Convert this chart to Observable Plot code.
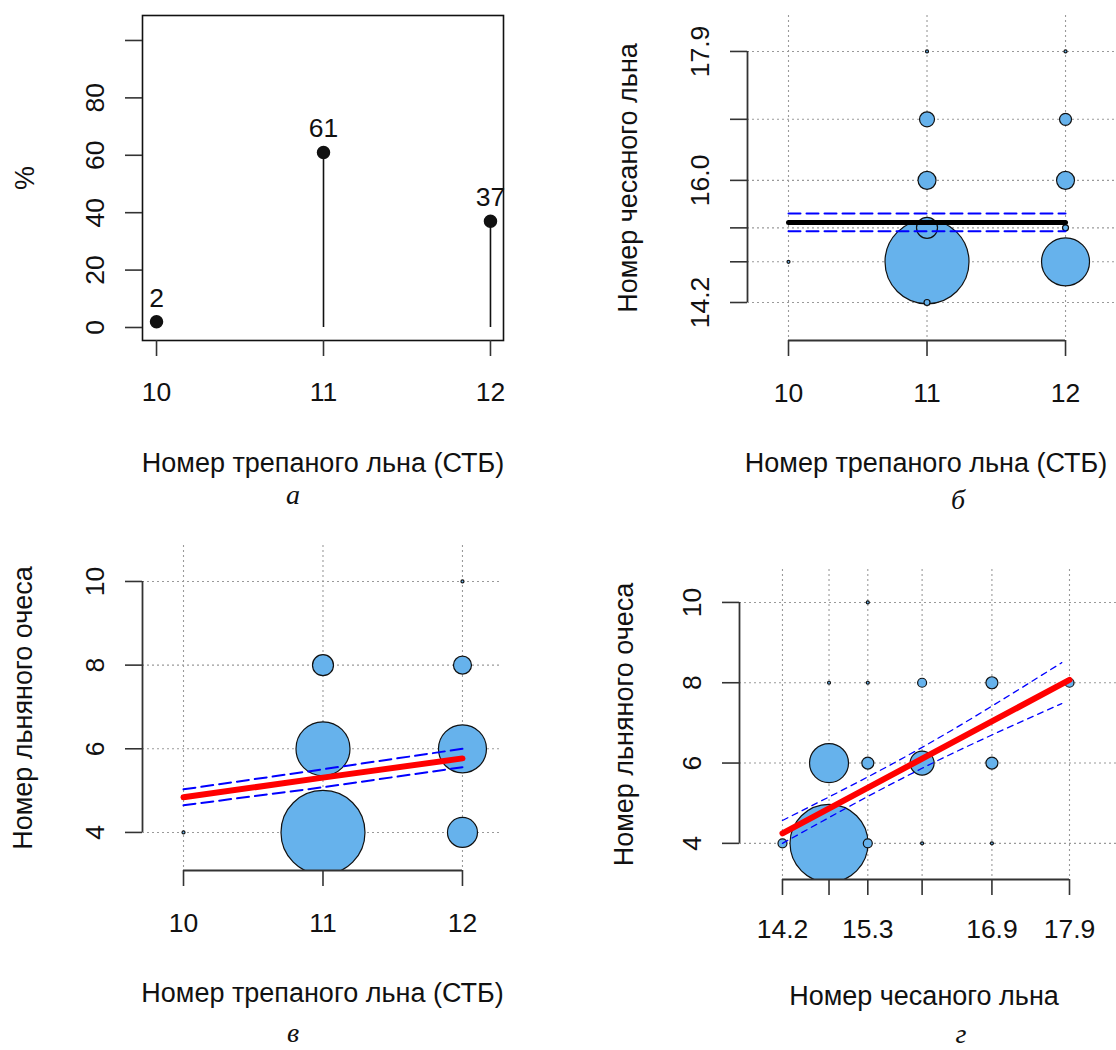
<!DOCTYPE html>
<html><head><meta charset="utf-8">
<script src="https://cdn.jsdelivr.net/npm/d3@7"></script>
<script src="https://cdn.jsdelivr.net/npm/@observablehq/plot@0.6"></script>
<style>
body{margin:0;background:#fff;}
#root{position:relative;width:1116px;height:1050px;overflow:hidden;background:#fff;font-family:"Liberation Sans",Arial,sans-serif;}
.panel{position:absolute;}
.cap{position:absolute;font-family:"Liberation Serif",serif;font-style:italic;font-size:28px;line-height:1;transform:translateX(-50%);color:#111;}
</style></head><body><div id="root"></div>
<script>
// ---------- data ----------
// panel а: share of scutched-flax grades
const scutchedGrades = [10, 11, 12];
const sharePct = [2, 61, 37];
const pctTicks = [0, 20, 40, 60, 80, 100];
const pctLabels = [0, 20, 40, 60, 80];

// common tick lists
const scutchedTicks = [10, 11, 12];
const combedTicks = [14.2, 14.8, 15.3, 16.0, 16.9, 17.9];
const combedLabelsB = [14.2, 16.0, 17.9];
const combedLabelsG = [14.2, 15.3, 16.9, 17.9];
const towTicks = [4, 6, 8, 10];

// panel б: scutched (x) vs combed (y), bubble = frequency
const bScutched = [10, 11, 11, 11, 11, 11, 11, 12, 12, 12, 12, 12];
const bCombed   = [14.8, 14.2, 14.8, 15.3, 16.0, 16.9, 17.9, 14.8, 15.3, 16.0, 16.9, 17.9];
const bCount    = [1, 2, 28, 7, 6, 5, 1, 16, 2, 6, 4, 1];
const bFitX = [10, 12];
const bFit  = [15.38, 15.38];
const bCiHi = [15.51, 15.51];
const bCiLo = [15.25, 15.25];

// panel в: scutched (x) vs tow (y)
const vScutched = [10, 11, 11, 11, 12, 12, 12, 12];
const vTow      = [4, 4, 6, 8, 4, 6, 8, 10];
const vCount    = [1, 28, 18, 7, 10, 16, 6, 1];
const vFitX = [10, 11, 12];
const vFit  = [4.84, 5.31, 5.77];
const vCiHi = [5.03, 5.51, 6.00];
const vCiLo = [4.65, 5.08, 5.56];

// panel г: combed (x) vs tow (y)
const gCombed = [14.2, 14.8, 14.8, 14.8, 15.3, 15.3, 15.3, 15.3, 16.0, 16.0, 16.0, 16.9, 16.9, 16.9, 17.9];
const gTow    = [4, 4, 6, 8, 4, 6, 8, 10, 4, 6, 8, 4, 6, 8, 8];
const gCount  = [3, 26, 13, 1, 3, 4, 1, 1, 1, 8, 3, 1, 4, 4, 3];
const gFitX = [14.2, 17.9];
const gFit  = [4.25, 8.07];
const gCiX  = [14.2, 16.0, 17.8];
const gCiHi = [4.57, 6.39, 8.50];
const gCiLo = [4.00, 5.87, 7.48];

// ---------- helpers ----------
const FONT = "Liberation Sans, Arial, sans-serif";
const FS = 26.5;      // tick labels
const FT = 27;        // axis titles
const INK = "#111";
const AXIS = "#333";
const GRID = {stroke: "#9a9a9a", strokeOpacity: 1, strokeDasharray: "2,3", strokeWidth: 1.1};
const BUBBLE = "#66b2ec";
const zip = (xs, ys, ns) => xs.map((x, i) => ({x, y: ys[i], n: ns ? ns[i] : undefined}));

function mount(node, left, top) {
  const d = document.createElement("div");
  d.className = "panel"; d.style.left = left + "px"; d.style.top = top + "px";
  d.appendChild(node);
  document.getElementById("root").appendChild(d);
}
function caption(t, cx, top) {
  const d = document.createElement("div");
  d.className = "cap"; d.textContent = t; d.style.left = cx + "px"; d.style.top = top + "px";
  document.getElementById("root").appendChild(d);
}
function axes({xTicks, xLabels, xFmt, yTicks, yLabels, yFmt, xPad, xTitle, yTitle, xTitleDy, yTitleDx, xTitleDx = 0}) {
  return [
    Plot.axisX(xTicks, {anchor: "bottom", label: null, tickSize: 16, tickPadding: xPad, fontSize: FS, stroke: AXIS, strokeWidth: 1.6, fill: INK,
      tickFormat: d => xLabels.includes(d) ? xFmt(d) : ""}),
    Plot.axisY(yTicks, {anchor: "left", label: null, tickSize: 17, tickPadding: 22, tickRotate: -90, fontSize: FS, stroke: AXIS, strokeWidth: 1.6, fill: INK,
      tickFormat: d => yLabels.includes(d) ? yFmt(d) : ""}),
    Plot.text([xTitle], {text: d => d, frameAnchor: "bottom", dy: xTitleDy, dx: xTitleDx, lineAnchor: "bottom", fontSize: FT, fill: INK}),
    Plot.text([yTitle], {text: d => d, frameAnchor: "left", rotate: -90, dx: yTitleDx, lineAnchor: "bottom", textAnchor: "middle", fontSize: FT, fill: INK})
  ];
}
function brackets(xTicks, yTicks, xDom, yDom) {
  return [
    Plot.ruleY([yDom[0]], {x1: d3.min(xTicks), x2: d3.max(xTicks), stroke: AXIS, strokeWidth: 1.8}),
    Plot.ruleX([xDom[0]], {y1: d3.min(yTicks), y2: d3.max(yTicks), stroke: AXIS, strokeWidth: 1.8})
  ];
}
function bubbles(data) {
  return Plot.dot(d3.sort(data, d => -d.n), {x: "x", y: "y", r: "n", fill: BUBBLE, stroke: "#111", strokeWidth: 1.2, clip: true});
}
const baseStyle = {fontFamily: FONT, fontSize: FS + "px", background: "transparent", overflow: "visible"};

// ---------- panel а ----------
{
  const data = scutchedGrades.map((g, i) => ({g, p: sharePct[i]}));
  const xDom = [9.916, 12.078], yDom = [-4.53, 108.7];
  mount(Plot.plot({
    width: 558, height: 520, marginLeft: 142, marginRight: 55, marginTop: 15, marginBottom: 180,
    style: baseStyle,
    x: {domain: xDom, label: null}, y: {domain: yDom, label: null},
    marks: [
      Plot.frame({stroke: INK, strokeWidth: 1.6}),
      Plot.ruleX(data, {x: "g", y: "p", stroke: INK, strokeWidth: 1.6}),
      Plot.dot(data, {x: "g", y: "p", r: 6, fill: INK, stroke: INK}),
      Plot.text(data, {x: "g", y: "p", text: d => String(d.p), dy: -15, lineAnchor: "bottom", fontSize: FS, fill: INK}),
      ...axes({xTicks: scutchedTicks, xLabels: scutchedTicks, xFmt: String, yTicks: pctTicks, yLabels: pctLabels, yFmt: String,
        xPad: 26, xTitle: "Номер трепаного льна (СТБ)", yTitle: "%", xTitleDy: 131, yTitleDx: -109})
    ]
  }), 0, 0);
  caption("а", 293, 481);
}

// ---------- panel б ----------
{
  const xDom = [9.704, 12.368], yDom = [13.64, 18.43];
  const fit = zip(bFitX, bFit), hi = zip(bFitX, bCiHi), lo = zip(bFitX, bCiLo);
  mount(Plot.plot({
    width: 558, height: 520, marginLeft: 189, marginRight: 0, marginTop: 15, marginBottom: 180,
    style: baseStyle,
    x: {domain: xDom, label: null}, y: {domain: yDom, label: null}, r: {type: "linear", domain: [0, 28], range: [0, 42]},
    marks: [
      Plot.gridX(scutchedTicks, GRID), Plot.gridY(combedTicks, GRID),
      bubbles(zip(bScutched, bCombed, bCount)),
      Plot.line(fit, {x: "x", y: "y", stroke: "#000", strokeWidth: 5}),
      Plot.line(hi, {x: "x", y: "y", stroke: "#0000ff", strokeWidth: 2, strokeDasharray: "12,6"}),
      Plot.line(lo, {x: "x", y: "y", stroke: "#0000ff", strokeWidth: 2, strokeDasharray: "12,6"}),
      ...brackets(scutchedTicks, combedTicks, xDom, yDom),
      ...axes({xTicks: scutchedTicks, xLabels: scutchedTicks, xFmt: String, yTicks: combedTicks, yLabels: combedLabelsB, yFmt: d => d.toFixed(1),
        xPad: 27, xTitle: "Номер трепаного льна (СТБ)", yTitle: "Номер чесаного льна", xTitleDy: 131, yTitleDx: -111, xTitleDx: -6})
    ]
  }), 558, 0);
  caption("б", 958, 486);
}

// ---------- panel в ----------
{
  const xDom = [9.706, 12.287], yDom = [3.09, 10.86];
  const fit = zip(vFitX, vFit), hi = zip(vFitX, vCiHi), lo = zip(vFitX, vCiLo);
  mount(Plot.plot({
    width: 558, height: 530, marginLeft: 142, marginRight: 56, marginTop: 25, marginBottom: 180,
    style: baseStyle,
    x: {domain: xDom, label: null}, y: {domain: yDom, label: null}, r: {type: "linear", domain: [0, 28], range: [0, 42]},
    marks: [
      Plot.gridX(scutchedTicks, GRID), Plot.gridY(towTicks, GRID),
      bubbles(zip(vScutched, vTow, vCount)),
      Plot.line(hi, {x: "x", y: "y", stroke: "#0000ff", strokeWidth: 2, strokeDasharray: "12,6"}),
      Plot.line(lo, {x: "x", y: "y", stroke: "#0000ff", strokeWidth: 2, strokeDasharray: "12,6"}),
      Plot.line(fit, {x: "x", y: "y", stroke: "#ff0000", strokeWidth: 6}),
      ...brackets(scutchedTicks, towTicks, xDom, yDom),
      ...axes({xTicks: scutchedTicks, xLabels: scutchedTicks, xFmt: String, yTicks: towTicks, yLabels: towTicks, yFmt: String,
        xPad: 27, xTitle: "Номер трепаного льна (СТБ)", yTitle: "Номер льняного очеса", xTitleDy: 131, yTitleDx: -111})
    ]
  }), 0, 520);
  caption("в", 293, 1019);
}

// ---------- panel г ----------
{
  const xDom = [13.646, 18.506], yDom = [3.10, 10.82];
  const fit = zip(gFitX, gFit), hi = zip(gCiX, gCiHi), lo = zip(gCiX, gCiLo);
  mount(Plot.plot({
    width: 558, height: 530, marginLeft: 181, marginRight: 0, marginTop: 49, marginBottom: 171,
    style: baseStyle,
    x: {domain: xDom, label: null}, y: {domain: yDom, label: null}, r: {type: "linear", domain: [0, 28], range: [0, 42]},
    marks: [
      Plot.gridX(combedTicks, GRID), Plot.gridY(towTicks, GRID),
      bubbles(zip(gCombed, gTow, gCount)),
      Plot.line(hi, {x: "x", y: "y", stroke: "#0000ff", strokeWidth: 1.3, strokeDasharray: "6,5", curve: "natural"}),
      Plot.line(lo, {x: "x", y: "y", stroke: "#0000ff", strokeWidth: 1.3, strokeDasharray: "6,5", curve: "natural"}),
      Plot.line(fit, {x: "x", y: "y", stroke: "#ff0000", strokeWidth: 6}),
      ...brackets(combedTicks, towTicks, xDom, yDom),
      ...axes({xTicks: combedTicks, xLabels: combedLabelsG, xFmt: d => d.toFixed(1), yTicks: towTicks, yLabels: towTicks, yFmt: String,
        xPad: 24, xTitle: "Номер чесаного льна", yTitle: "Номер льняного очеса", xTitleDy: 125, yTitleDx: -107, xTitleDx: -4})
    ]
  }), 558, 520);
  caption("г", 961, 1020);
}
</script></body></html>
